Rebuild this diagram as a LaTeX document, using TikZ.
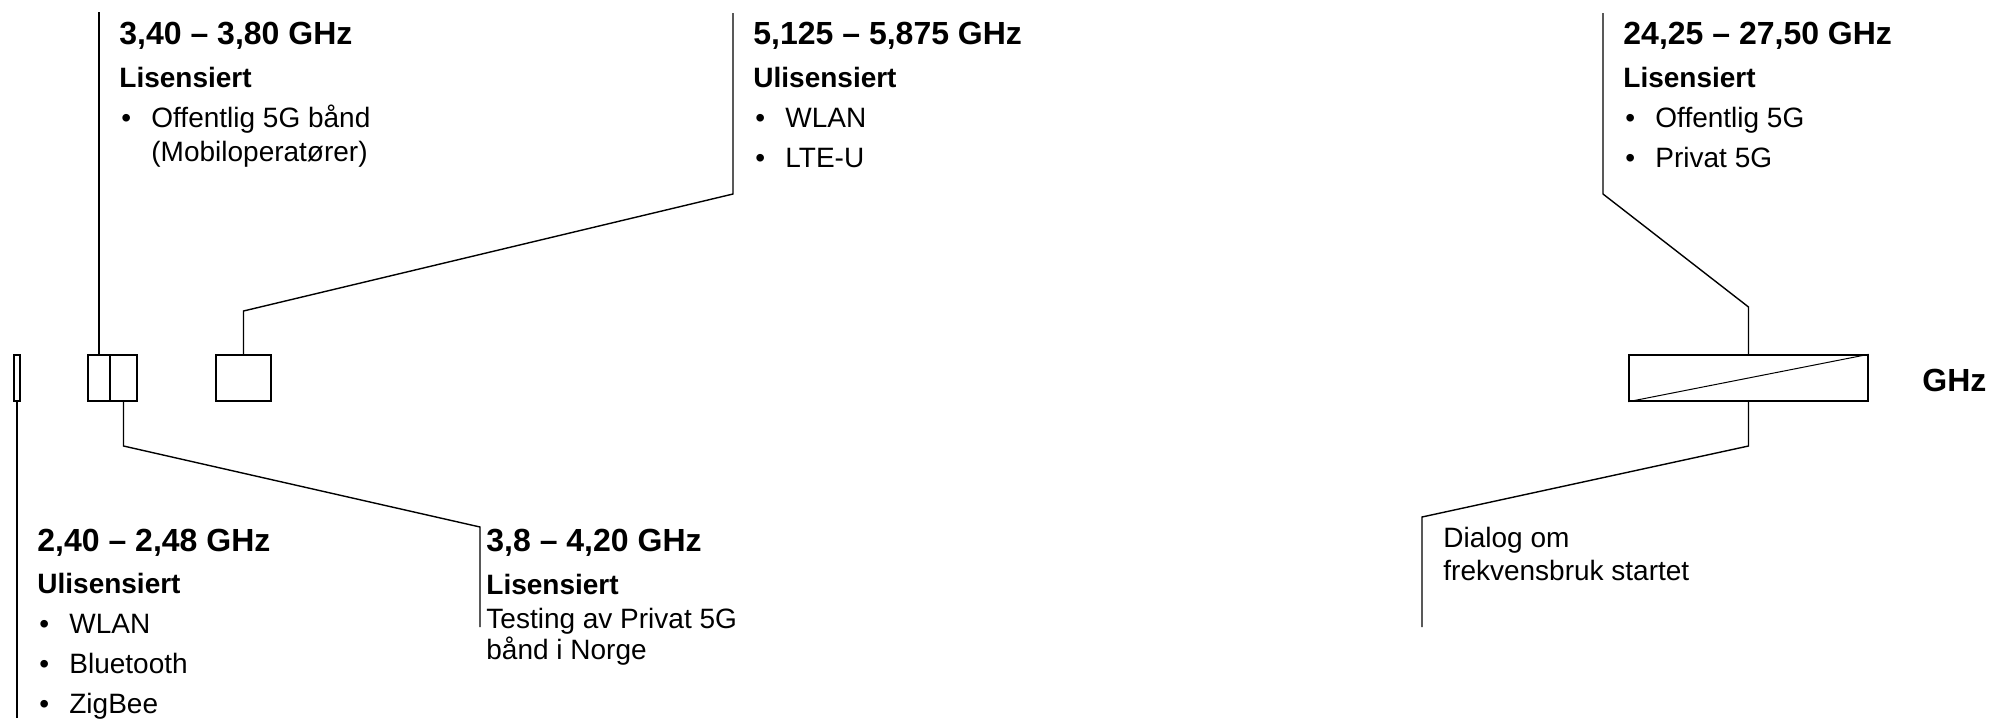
\documentclass[tikz,border=0pt]{standalone}
\usepackage{fontspec}
\setmainfont{Liberation Sans}

\tikzset{
  band/.style={draw, line width=0.7pt, inner sep=0pt, minimum height=23pt},
  lead/.style={line width=0.7pt},
  head/.style={anchor=base west, inner sep=0pt, font=\fontsize{16}{19}\selectfont\bfseries},
  sub/.style={anchor=base west, inner sep=0pt, font=\fontsize{14}{17}\selectfont\bfseries},
  txt/.style={anchor=base west, inner sep=0pt, font=\fontsize{14}{17}\selectfont},
}
\newcommand{\bul}{\makebox[15pt][l]{•}}

\begin{document}
\begin{tikzpicture}[x=0.5pt, y=-0.5pt]
\useasboundingbox (0,0) rectangle (1991,718);

% Bands on the axis
\node[band, minimum width=3pt]    (b240)  at (17,378)     {};
\node[band, minimum width=11pt]   (b340)  at (99,378)     {};
\node[band, minimum width=13.5pt] (b380)  at (123.5,378)  {};
\node[band, minimum width=27.5pt] (b512)  at (243.5,378)  {};
\node[band, minimum width=119.5pt] (b2425) at (1748.5,378) {};
\draw[line width=0.5pt] (b2425.south west) -- (b2425.north east);
\node[head] (ghz) at (1922,391.5) {GHz};

% Leader bends and ends
\coordinate (e240) at (17,718);
\coordinate (e340) at (99,12);
\coordinate (k380a) at (123.5,446);
\coordinate (k380b) at (480,527);
\coordinate (e380) at (480,627);
\coordinate (k512a) at (243.5,311);
\coordinate (k512b) at (733,194);
\coordinate (e512) at (733,13);
\coordinate (k2425a) at (1748.5,307);
\coordinate (k2425b) at (1603,194);
\coordinate (e2425) at (1603,13);
\coordinate (kdiaa) at (1748.5,446);
\coordinate (kdiab) at (1422,517);
\coordinate (edia) at (1422,627);

\draw[lead] (b240.south) -- (e240);
\draw[lead] (b340.north) -- (e340);
\draw[lead] (b380.south) -- (k380a) -- (k380b) -- (e380);
\draw[lead] (b512.north) -- (k512a) -- (k512b) -- (e512);
\draw[lead] (b2425.north) -- (k2425a) -- (k2425b) -- (e2425);
\draw[lead] (b2425.south) -- (kdiaa) -- (kdiab) -- (edia);

% 3,40 - 3,80 GHz
\node[head] (t340h) at (119,44.5) {3,40 – 3,80 GHz};
\node[sub]  (t340s) at (119,87)   {Lisensiert};
\node[txt]  (t340a) at (121,127.5) {\bul Offentlig 5G bånd};
\node[txt]  (t340b) at (151,161)   {(Mobiloperatører)};

% 5,125 - 5,875 GHz
\node[head] (t512h) at (753,44.5) {5,125 – 5,875 GHz};
\node[sub]  (t512s) at (753,87)   {Ulisensiert};
\node[txt]  (t512a) at (755,127.5) {\bul WLAN};
\node[txt]  (t512b) at (755,167.5) {\bul LTE-U};

% 24,25 - 27,50 GHz
\node[head] (t2425h) at (1623,44.5) {24,25 – 27,50 GHz};
\node[sub]  (t2425s) at (1623,87)   {Lisensiert};
\node[txt]  (t2425a) at (1625,127.5) {\bul Offentlig 5G};
\node[txt]  (t2425b) at (1625,167.5) {\bul Privat 5G};

% 2,40 - 2,48 GHz
\node[head] (t240h) at (37,551.5) {2,40 – 2,48 GHz};
\node[sub]  (t240s) at (37,593)   {Ulisensiert};
\node[txt]  (t240a) at (39,633)   {\bul WLAN};
\node[txt]  (t240b) at (39,673)   {\bul Bluetooth};
\node[txt]  (t240c) at (39,713)   {\bul ZigBee};

% 3,8 - 4,20 GHz
\node[head] (t380h) at (486,551.5) {3,8 – 4,20 GHz};
\node[sub]  (t380s) at (486,594)   {Lisensiert};
\node[txt]  (t380a) at (486,628)   {Testing av Privat 5G};
\node[txt]  (t380b) at (486,659)   {bånd i Norge};

% Dialog
\node[txt] (tdiaa) at (1443,547) {Dialog om};
\node[txt] (tdiab) at (1443,580) {frekvensbruk startet};
\end{tikzpicture}
\end{document}
